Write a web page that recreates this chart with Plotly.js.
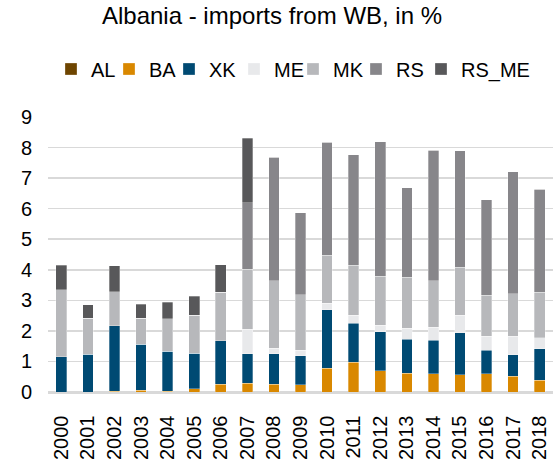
<!DOCTYPE html>
<html>
<head>
<meta charset="utf-8">
<script src="https://cdn.plot.ly/plotly-3.0.1.min.js"></script>
<style>html,body{margin:0;padding:0;background:#fff;}#chart{width:558px;height:461px;}</style>
</head>
<body>
<div id="chart"></div>
<script>
const years = ["2000","2001","2002","2003","2004","2005","2006","2007","2008","2009","2010","2011","2012","2013","2014","2015","2016","2017","2018"];
const AL    = [0,0,0,0,0,0,0,0,0,0,0,0,0,0,0,0,0,0,0];
const BA    = [0,0,0.02,0.05,0.03,0.11,0.26,0.28,0.26,0.23,0.77,0.98,0.69,0.62,0.59,0.57,0.60,0.52,0.38];
const XK    = [1.16,1.24,2.15,1.52,1.30,1.16,1.42,0.97,0.99,0.95,1.92,1.27,1.29,1.11,1.11,1.37,0.76,0.70,1.04];
const ME    = [0,0,0,0,0,0,0,0.80,0.18,0.18,0.21,0.27,0.20,0.36,0.42,0.57,0.47,0.60,0.36];
const MK    = [2.18,1.17,1.11,0.84,1.06,1.25,1.59,1.96,2.21,1.83,1.58,1.63,1.61,1.67,1.52,1.57,1.34,1.40,1.49];
const RS    = [0,0,0,0,0,0,0,2.19,4.05,2.67,3.69,3.61,4.40,2.93,4.27,3.81,3.13,3.99,3.37];
const RS_ME = [0.81,0.45,0.86,0.47,0.55,0.61,0.90,2.10,0,0,0,0,0,0,0,0,0,0,0];

const seriesNames = ["AL","BA","XK","ME","MK","RS","RS_ME"];
const seriesData = [AL,BA,XK,ME,MK,RS,RS_ME];
const colors = ["#6E4500","#D98800","#004A73","#E8E9EB","#B7B8BB","#87868A","#58585A"];
const legendWidths = [13,15,20,14,18,20,68];

const traces = seriesNames.map((n,i)=>({
  type:'bar', name:n, x:years, y:seriesData[i],
  marker:{color:colors[i], line:{color:'rgba(255,255,255,0.6)', width:0.5}},
  legendwidth: legendWidths[i],
  hoverinfo:'x+y+name'
}));

const font = "'Liberation Sans', Arial, sans-serif";
const layout = {
  width:558, height:461,
  margin:{l:48, r:5, t:117, b:69},
  paper_bgcolor:'#fff', plot_bgcolor:'#fff',
  barmode:'stack', bargap:0.6,
  font:{family:font, color:'#000', size:20},
  title:{text:'Albania - imports from WB, in %', font:{family:font, size:24, color:'#000'},
         xref:'container', x:0.4875, xanchor:'center', yref:'container', y:1-16/461, yanchor:'middle'},
  showlegend:true,
  legend:{orientation:'h', traceorder:'normal', xref:'container', yref:'container',
          x:51/558, xanchor:'left', y:1-69/461, yanchor:'middle',
          font:{family:font, size:20, color:'#000'}, bgcolor:'rgba(0,0,0,0)'},
  xaxis:{type:'category', tickangle:-90, ticks:'outside', ticklen:14, tickcolor:'rgba(0,0,0,0)',
         showline:true, linecolor:'#D9D9D9', linewidth:1.5, showgrid:false,
         tickfont:{family:font, size:20, color:'#000'}, fixedrange:true},
  yaxis:{range:[0,9], dtick:1, showgrid:true, gridcolor:'#D9D9D9', gridwidth:1.5,
         zeroline:true, zerolinecolor:'#D9D9D9', zerolinewidth:1.5,
         ticks:'outside', ticklen:11, tickcolor:'rgba(0,0,0,0)',
         tickfont:{family:font, size:20, color:'#000'}, fixedrange:true}
};
Plotly.newPlot('chart', traces, layout, {displayModeBar:false, staticPlot:true});
</script>
</body>
</html>
